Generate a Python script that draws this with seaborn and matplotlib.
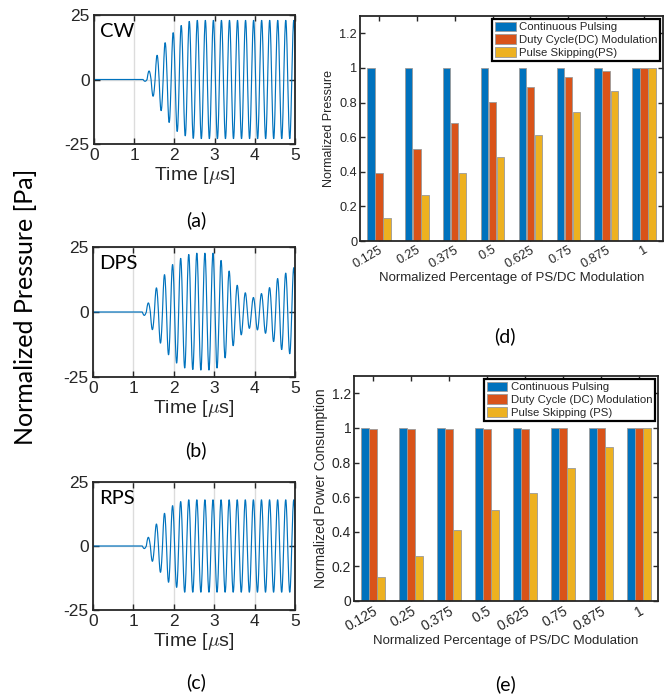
import numpy as np
import pandas as pd
import matplotlib
matplotlib.use("Agg")
import matplotlib.pyplot as plt
import seaborn as sns

# ---------------- data ----------------
# Waveforms: signed half-cycle extremes [Pa]; first extreme at t0, one every half period
t0 = 1.27          # us
half_period = 0.1  # us (5 MHz carrier)
cw_extremes = [-0.7, 3.3, -6.5, 9.4, -12.1, 14.3, -16.7, 18.2, -20.2, 21.0,
               -21.9, 22.6, -22.9, 23.0, -23.0, 23.0, -23.0, 23.0, -23.0, 23.0,
               -23.0, 23.0, -23.0, 23.0, -23.0, 23.0, -23.0, 23.0, -23.0, 23.0,
               -23.0, 23.0, -23.0, 23.0, -23.0, 23.0, -23.0, 23.0]
dps_extremes = [-1.3, 3.5, -6.8, 9.3, -12.0, 14.4, -16.5, 18.3, -19.7, 20.7,
                -21.6, 22.2, -22.2, 22.7, -22.4, 22.7, -22.4, 22.7, -21.6, 19.9,
                -17.7, 15.8, -13.0, 10.3, -8.8, 7.4, -6.3, 5.6, -6.9, 7.1,
                -8.2, 9.4, -11.4, 12.9, -14.5, 15.0, -16.1, 17.1]
rps_extremes = [-1.0, 3.4, -6.0, 8.6, -10.3, 12.8, -14.2, 15.8, -16.2, 17.4,
                -18.1, 18.1, -18.1, 18.1, -18.1, 18.1, -18.1, 18.1, -18.1, 18.1,
                -18.1, 18.1, -18.1, 18.1, -18.1, 18.1, -18.1, 18.1, -18.1, 18.1,
                -18.1, 18.1, -18.1, 18.1, -18.1, 18.1, -18.1, 18.1]
wave_names = ["CW", "DPS", "RPS"]
panel_tags = ["(a)", "(b)", "(c)", "(d)", "(e)"]

# Bar charts
mod_levels = ["0.125", "0.25", "0.375", "0.5", "0.625", "0.75", "0.875", "1"]
pressure_cont = [1, 1, 1, 1, 1, 1, 1, 1]
pressure_dc = [0.395, 0.532, 0.679, 0.803, 0.888, 0.950, 0.985, 1.0]
pressure_ps = [0.135, 0.263, 0.391, 0.487, 0.615, 0.745, 0.868, 1.0]
power_cont = [1, 1, 1, 1, 1, 1, 1, 1]
power_dc = [0.992, 0.992, 0.992, 0.996, 0.996, 1.0, 1.0, 1.0]
power_ps = [0.140, 0.260, 0.409, 0.525, 0.624, 0.771, 0.890, 1.0]
series_d = ["Continuous Pulsing", "Duty Cycle(DC) Modulation", "Pulse Skipping(PS)"]
series_e = ["Continuous Pulsing", "Duty Cycle (DC) Modulation", "Pulse Skipping (PS)"]
bar_colors = ["#0072BD", "#D95319", "#EDB120"]

# ---------------- style ----------------
sns.set_theme(style="ticks")
plt.rcParams["font.family"] = ["Liberation Sans", "DejaVu Sans"]
plt.rcParams["mathtext.fontset"] = "cm"
plt.rcParams["axes.unicode_minus"] = False
plt.rcParams["axes.edgecolor"] = "#262626"
plt.rcParams["text.color"] = "#262626"
plt.rcParams["xtick.color"] = "#262626"
plt.rcParams["ytick.color"] = "#262626"

W, H = 671, 696
fig = plt.figure(figsize=(W / 100, H / 100), dpi=100)


def box(l, t, r, b):
    return [l / W, 1 - b / H, (r - l) / W, (b - t) / H]


def wave_frame(extremes):
    ts = [0.0, t0 - half_period / 2]
    ps = [0.0, 0.0]
    for k, a in enumerate(extremes):
        tk = t0 + k * half_period
        tt = np.linspace(tk - half_period / 2, tk + half_period / 2, 16)[1:]
        ts.extend(tt)
        ps.extend(a * np.cos(np.pi * (tt - tk) / half_period))
    return pd.DataFrame({"t": ts, "p": ps})


wave_boxes = [(94, 15, 295, 144), (93, 247, 295, 377), (93, 482, 295, 610)]
wave_data = [cw_extremes, dps_extremes, rps_extremes]
tag_y = [220, 450, 682]
for name, ext, bx, ty, tag in zip(wave_names, wave_data, wave_boxes, tag_y, panel_tags[:3]):
    ax = fig.add_axes(box(*bx))
    df = wave_frame(ext)
    sns.lineplot(data=df, x="t", y="p", ax=ax, color="#0072BD", lw=0.85,
                 estimator=None, sort=False)
    ax.set_xlim(0, 5)
    ax.set_ylim(-25, 25)
    ax.set_xticks([0, 1, 2, 3, 4, 5])
    ax.set_yticks([-25, 0, 25])
    ax.grid(True, color="#dcdcdc", lw=1.0)
    ax.set_axisbelow(True)
    ax.tick_params(direction="in", length=4, width=1, top=True, right=True,
                   labelsize=12.5, pad=3)
    for s in ax.spines.values():
        s.set_linewidth(1.3)
    ax.set_xlabel(r"Time [$\mu$s]", fontsize=14, labelpad=1)
    ax.set_ylabel("")
    ax.text(0.03, 0.87, name, transform=ax.transAxes, fontsize=14.5,
            family=["Lato", "DejaVu Sans"], va="center", ha="left", color="black")
    fig.text(196 / W, 1 - ty / H, tag, fontsize=14, family=["Lato", "DejaVu Sans"],
             ha="center", va="center", color="black")

fig.text(26 / W, 1 - 307 / H, "Normalized Pressure [Pa]", rotation=90,
         fontsize=18, family=["Lato", "DejaVu Sans"], ha="center", va="center",
         color="black")


def bar_panel(bx, cont, dc, ps, names, ylabel, tick_fs, ylab_fs, tag, tag_xy):
    ax = fig.add_axes(box(*bx))
    df = pd.DataFrame({
        "mod": mod_levels * 3,
        "series": [names[0]] * 8 + [names[1]] * 8 + [names[2]] * 8,
        "value": list(cont) + list(dc) + list(ps),
    })
    sns.barplot(data=df, x="mod", y="value", hue="series", order=mod_levels,
                hue_order=names, palette=bar_colors, width=0.64, gap=0.08,
                edgecolor="#9a9a9a", linewidth=0.6, saturation=1, ax=ax)
    ax.set_xlim(-0.5, 7.5)
    ax.set_ylim(0, 1.3)
    ax.set_yticks([0, 0.2, 0.4, 0.6, 0.8, 1.0, 1.2])
    ax.set_yticklabels(["0", "0.2", "0.4", "0.6", "0.8", "1", "1.2"])
    ax.tick_params(direction="in", length=3.5, width=1, top=True, right=True,
                   labelsize=tick_fs, pad=2)
    for lab in ax.get_xticklabels():
        lab.set_rotation(30)
        lab.set_ha("right")
        lab.set_rotation_mode("anchor")
    for s in ax.spines.values():
        s.set_linewidth(1.3)
    ax.set_xlabel("Normalized Percentage of PS/DC Modulation", fontsize=9.5, labelpad=1)
    ax.set_ylabel(ylabel, fontsize=ylab_fs, labelpad=3)
    sns.move_legend(ax, "upper right", title=None, frameon=True, fancybox=False,
                    fontsize=8.2, borderpad=0.25, labelspacing=0.18,
                    handlelength=1.8, handleheight=0.9, handletextpad=0.3,
                    borderaxespad=0.25, framealpha=1)
    leg = ax.get_legend()
    leg.get_frame().set_edgecolor("black")
    leg.get_frame().set_linewidth(1.6)
    fig.text(tag_xy[0] / W, 1 - tag_xy[1] / H, tag, fontsize=14,
             family=["Lato", "DejaVu Sans"], ha="center", va="center", color="black")
    return ax


bar_panel((360, 16, 663, 241), pressure_cont, pressure_dc, pressure_ps, series_d,
          "Normalized Pressure", 9.2, 9, panel_tags[3], (505, 336))
bar_panel((354, 376, 658, 601), power_cont, power_dc, power_ps, series_e,
          "Normalized Power Consumption", 10, 10, panel_tags[4], (505, 684))

fig.savefig("out.png", dpi=100)
